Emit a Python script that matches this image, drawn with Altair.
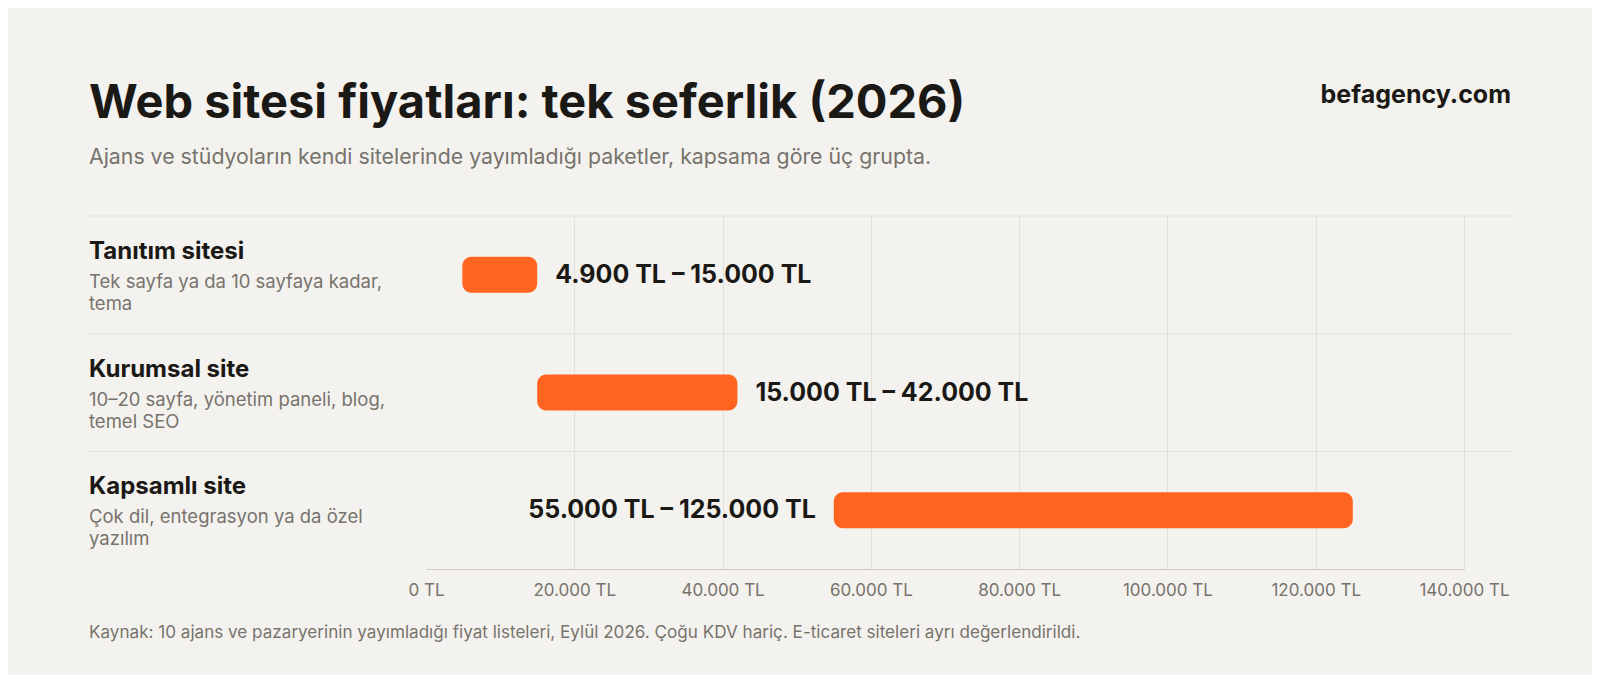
import altair as alt
import pandas as pd

# ---- data ----
categories = ["Tanıtım sitesi", "Kurumsal site", "Kapsamlı site"]
descriptions = [
    "Tek sayfa ya da 10 sayfaya kadar,\ntema",
    "10–20 sayfa, yönetim paneli, blog,\ntemel SEO",
    "Çok dil, entegrasyon ya da özel\nyazılım",
]
low_prices = [4900, 15000, 55000]
high_prices = [15000, 42000, 125000]
label_sides = ["right", "right", "left"]
tick_values = [0, 20000, 40000, 60000, 80000, 100000, 120000, 140000]

title_text = "Web sitesi fiyatları: tek seferlik (2026)"
subtitle_text = "Ajans ve stüdyoların kendi sitelerinde yayımladığı paketler, kapsama göre üç grupta."
brand_text = "befagency.com"
source_text = ("Kaynak: 10 ajans ve pazaryerinin yayımladığı fiyat listeleri, Eylül 2026. "
               "Çoğu KDV hariç. E-ticaret siteleri ayrı değerlendirildi.")


def tl(v):
    return f"{v:,}".replace(",", ".") + " TL"


df = pd.DataFrame({
    "cat": categories,
    "desc": descriptions,
    "low": low_prices,
    "high": high_prices,
    "side": label_sides,
    "label": [f"{tl(a)} – {tl(b)}" for a, b in zip(low_prices, high_prices)],
})

BG = "#f4f2ee"
ORANGE = "#ff6520"
DARK = "#1b1916"
GRAY = "#77736d"
LINE = "#e3e0db"
FONT = "Inter"
LEFT = -337

y_enc = alt.Y("cat:N", sort=categories, axis=None,
              scale=alt.Scale(paddingInner=0, paddingOuter=0))

base = alt.Chart(df)

separators = base.mark_rule(color=LINE, strokeWidth=1).encode(
    y=alt.Y("cat:N", sort=categories, axis=None, bandPosition=0,
            scale=alt.Scale(paddingInner=0, paddingOuter=0)),
    x=alt.value(LEFT),
    x2=alt.value(1085),
)

bars = base.mark_bar(cornerRadius=9, size=36, color=ORANGE).encode(
    x=alt.X("low:Q", scale=alt.Scale(domain=[0, 140000], nice=False),
            axis=alt.Axis(values=tick_values,
                          labelExpr="replace(format(datum.value, ',d'), ',', '.') + ' TL'",
                          grid=True, gridColor=LINE,
                          gridOpacity={"condition": {"test": "datum.value === 0", "value": 0}, "value": 1},
                          domainColor="#cfcbc4", ticks=False, labelPadding=13,
                          labelFont=FONT, labelFontSize=17, labelColor=GRAY,
                          labelFlush=False, title=None)),
    x2="high:Q",
    y=y_enc,
)

labels_right = base.transform_filter("datum.side === 'right'").mark_text(
    align="left", baseline="middle", dx=18, font=FONT, fontSize=25,
    fontWeight=700, color=DARK
).encode(x="high:Q", y=y_enc, text="label:N")

labels_left = base.transform_filter("datum.side === 'left'").mark_text(
    align="right", baseline="middle", dx=-18, font=FONT, fontSize=25,
    fontWeight=700, color=DARK
).encode(x="low:Q", y=y_enc, text="label:N")

cat_names = base.mark_text(
    align="left", baseline="alphabetic", dy=-16, font=FONT, fontSize=24,
    fontWeight=700, color=DARK
).encode(x=alt.value(LEFT), y=y_enc, text="cat:N")

cat_desc = base.mark_text(
    align="left", baseline="alphabetic", dy=13, font=FONT, fontSize=18.5,
    color=GRAY, lineBreak="\n", lineHeight=22
).encode(x=alt.value(LEFT), y=y_enc, text="desc:N")

texts = pd.DataFrame({
    "t": [title_text, subtitle_text, brand_text, source_text],
    "kind": ["title", "subtitle", "brand", "source"],
})
tbase = alt.Chart(texts)

title = tbase.transform_filter("datum.kind === 'title'").mark_text(
    align="left", baseline="alphabetic", font=FONT, fontSize=47,
    fontWeight=700, color=DARK
).encode(x=alt.value(LEFT), y=alt.value(-98), text="t:N")

subtitle = tbase.transform_filter("datum.kind === 'subtitle'").mark_text(
    align="left", baseline="middle", font=FONT, fontSize=21.3, color=GRAY
).encode(x=alt.value(LEFT), y=alt.value(-58), text="t:N")

brand = tbase.transform_filter("datum.kind === 'brand'").mark_text(
    align="right", baseline="alphabetic", font=FONT, fontSize=25,
    fontWeight=700, color=DARK
).encode(x=alt.value(1085), y=alt.value(-113), text="t:N")

source = tbase.transform_filter("datum.kind === 'source'").mark_text(
    align="left", baseline="middle", font=FONT, fontSize=17.1, color=GRAY
).encode(x=alt.value(LEFT), y=alt.value(417), text="t:N")

chart = alt.layer(
    separators, bars, labels_right, labels_left, cat_names, cat_desc,
    title, subtitle, brand, source
).properties(
    width=1038,
    height=353,
    autosize=alt.AutoSizeParams(type="none"),
    padding={"left": 418, "top": 208, "right": 128, "bottom": 106},
    background=BG,
).configure_view(stroke=None)

chart.save("out.html", embed_options={"renderer": "svg", "actions": False})
